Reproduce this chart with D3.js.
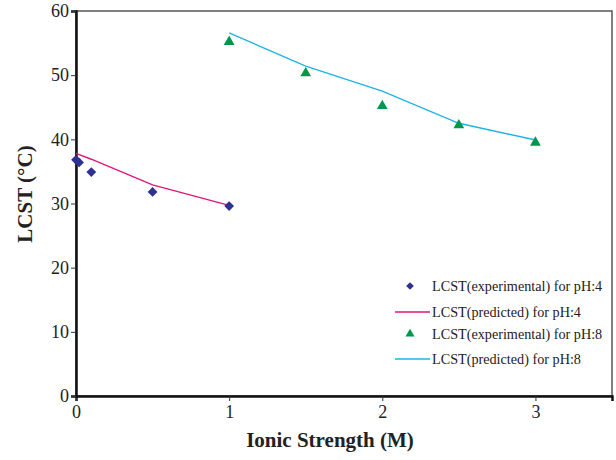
<!DOCTYPE html>
<html><head><meta charset="utf-8">
<script src="https://cdn.jsdelivr.net/npm/d3@7"></script>
<style>body{margin:0;background:#fff}svg{display:block}</style>
</head><body>
<script>
const expX4 = [0, 0.02, 0.1, 0.5, 1];
const expY4 = [36.8, 36.4, 34.9, 31.8, 29.6];
const predX4 = [0, 0.1, 0.5, 1];
const predY4 = [37.8, 36.9, 32.9, 29.7];
const expX8 = [1, 1.5, 2, 2.5, 3];
const expY8 = [55.2, 50.3, 45.2, 42.2, 39.5];
const predX8 = [1, 1.5, 2, 2.5, 3];
const predY8 = [56.6, 51.4, 47.5, 42.5, 39.9];
const xTicks = [0, 1, 2, 3];
const yTicks = [0, 10, 20, 30, 40, 50, 60];
const legendLabels = ["LCST(experimental) for pH:4", "LCST(predicted) for pH:4", "LCST(experimental) for pH:8", "LCST(predicted) for pH:8"];

const W = 616, H = 460;
const m = {l: 76, t: 11, r: 4, b: 64};
const svg = d3.select("body").append("svg").attr("width", W).attr("height", H);
const x = d3.scaleLinear().domain([0, 3.5]).range([m.l, W - m.r]);
const y = d3.scaleLinear().domain([0, 60]).range([H - m.b, m.t]);
const font = "'Liberation Serif', 'Times New Roman', serif";

// frame
svg.append("rect").attr("x", x(0)).attr("y", y(60)).attr("width", x(3.5) - x(0)).attr("height", y(0) - y(60))
  .attr("fill", "none").attr("stroke", "#555").attr("stroke-width", 1.5);

const xa = svg.append("g").attr("transform", `translate(0,${y(0)})`)
  .call(d3.axisBottom(x).tickValues(xTicks).tickSize(5).tickPadding(4).tickFormat(d3.format("d")));
const ya = svg.append("g").attr("transform", `translate(${x(0)},0)`)
  .call(d3.axisLeft(y).tickValues(yTicks).tickSize(5).tickPadding(2).tickFormat(d3.format("d")));
[xa, ya].forEach(a => {
  a.select(".domain").attr("stroke", "#111").attr("stroke-width", 2.5);
  a.selectAll(".tick line").attr("stroke", "#333");
  a.selectAll("text").attr("font-family", font).attr("font-size", 18).attr("fill", "#222");
});

// lines
const line = d3.line().x(d => x(d[0])).y(d => y(d[1]));
svg.append("path").datum(d3.zip(predX4, predY4)).attr("d", line).attr("fill", "none").attr("stroke", "#E0157F").attr("stroke-width", 1.4);
svg.append("path").datum(d3.zip(predX8, predY8)).attr("d", line).attr("fill", "none").attr("stroke", "#1EB4E6").attr("stroke-width", 1.4);

const diamond = d3.symbol().type(d3.symbolSquare).size(48);
const tri = d3.symbol().type(d3.symbolTriangle).size(50);
svg.selectAll(".d4").data(d3.zip(expX4, expY4)).join("path")
  .attr("d", diamond).attr("transform", d => `translate(${x(d[0])},${y(d[1])}) rotate(45)`).attr("fill", "#2E3192");
svg.selectAll(".t8").data(d3.zip(expX8, expY8)).join("path")
  .attr("d", tri).attr("transform", d => `translate(${x(d[0])},${y(d[1])})`).attr("fill", "#00964B");

// legend
const ly = [286, 312, 334, 359];
const lg = svg.append("g");
lg.append("path").attr("d", d3.symbol().type(d3.symbolSquare).size(30)()).attr("transform", `translate(410,${ly[0]}) rotate(45)`).attr("fill", "#2E3192");
lg.append("line").attr("x1", 395).attr("x2", 430).attr("y1", ly[1]).attr("y2", ly[1]).attr("stroke", "#E0157F").attr("stroke-width", 1.4);
lg.append("path").attr("d", d3.symbol().type(d3.symbolTriangle).size(35)()).attr("transform", `translate(410,${ly[2]})`).attr("fill", "#00964B");
lg.append("line").attr("x1", 395).attr("x2", 430).attr("y1", ly[3]).attr("y2", ly[3]).attr("stroke", "#1EB4E6").attr("stroke-width", 1.4);
legendLabels.forEach((t, i) => {
  lg.append("text").attr("x", 432).attr("y", ly[i]).attr("dy", "0.35em").attr("font-family", font).attr("font-size", 14.2).attr("fill", "#222").text(t);
});

// titles
svg.append("text").attr("x", 330).attr("y", 447).attr("text-anchor", "middle")
  .attr("font-family", font).attr("font-weight", "bold").attr("font-size", 21).attr("fill", "#222").text("Ionic Strength (M)");
svg.append("text").attr("transform", "translate(32,194) rotate(-90)").attr("text-anchor", "middle")
  .attr("font-family", font).attr("font-weight", "bold").attr("font-size", 21).attr("fill", "#222").text("LCST (°C)");
</script>
</body></html>
